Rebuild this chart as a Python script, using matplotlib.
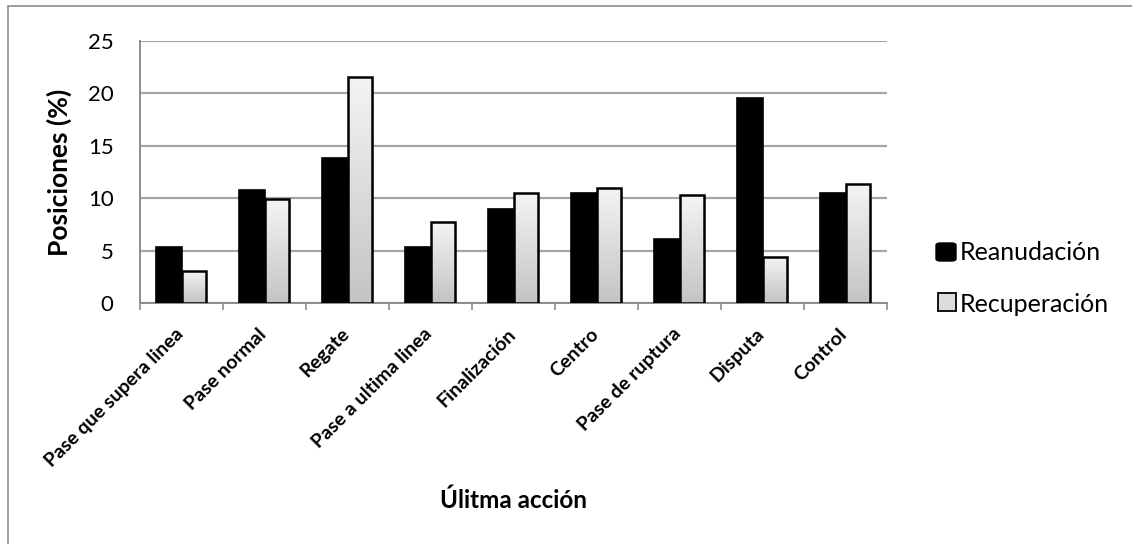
import numpy as np
import matplotlib
matplotlib.use("Agg")
import matplotlib.pyplot as plt
from matplotlib.patches import Rectangle, FancyBboxPatch
from matplotlib.colors import LinearSegmentedColormap
from matplotlib.transforms import ScaledTranslation

plt.rcParams['font.family'] = ['Lato', 'DejaVu Sans']

categories = ["Pase que supera linea", "Pase normal", "Regate", "Pase a ultima linea",
              "Finalización", "Centro", "Pase de ruptura", "Disputa", "Control"]
reanudacion = [5.3, 10.8, 13.8, 5.3, 9.0, 10.5, 6.1, 19.6, 10.5]
recuperacion = [3.1, 9.9, 21.6, 7.7, 10.5, 11.0, 10.3, 4.4, 11.4]
series_names = ["Reanudación", "Recuperación"]
yticks = [0, 5, 10, 15, 20, 25]

W, H = 1132, 544
fig = plt.figure(figsize=(W / 100, H / 100), dpi=100)
fig.patch.set_facecolor("white")

# outer chart frame (left and top edges visible)
fig.add_artist(Rectangle((8 / W, -0.05), 1.2, 1 - 6 / H + 0.05, transform=fig.transFigure,
                         fill=False, edgecolor="#8c8c8c", linewidth=1.2))

ax = fig.add_axes([140 / W, 1 - 303 / H, (887 - 140) / W, (303 - 41) / H])

grad_cmap = LinearSegmentedColormap.from_list("bargrey", ["#c4c4c4", "#f4f4f4"])
grad = np.linspace(0, 1, 256).reshape(-1, 1)

x = np.arange(len(categories))
w_dark, w_light = 0.32, 0.28
for xi, v1, v2 in zip(x, reanudacion, recuperacion):
    ax.bar(xi - 0.31, v1, width=w_dark, align="edge", color="black",
           edgecolor="black", linewidth=1.2, zorder=3)
    bl = ax.bar(xi + 0.01, v2, width=w_light, align="edge", color="none",
                edgecolor="black", linewidth=1.8, zorder=4)
    im = ax.imshow(grad, cmap=grad_cmap, origin="lower", aspect="auto",
                   extent=(xi + 0.01, xi + 0.01 + w_light, 0, v2), zorder=3.5,
                   interpolation="bilinear")
    im.set_clip_path(bl[0])
    # soft drop shadow on the right side of each pair
    ax.add_patch(Rectangle((xi + 0.01 + w_light, 0), 0.025, v2 - 0.3,
                           facecolor="#000000", alpha=0.12, edgecolor="none", zorder=2))

ax.set_xlim(-0.5, len(categories) - 0.5)
ax.set_ylim(0, 25)

ax.set_yticks(yticks)
ax.set_yticklabels([str(t) for t in yticks], fontsize=16)
ax.tick_params(axis="y", length=0, pad=19)
ax.yaxis.grid(True, color="#a6a6a6", linewidth=1.6, zorder=0)
ax.set_axisbelow(True)

ax.set_xticks(x)
ax.set_xticklabels(categories, rotation=45, ha="right", va="top",
                   fontsize=14, fontweight="bold")
ax.tick_params(axis="x", length=0, pad=16)
shift = ScaledTranslation(5 / 100, 0, fig.dpi_scale_trans)
for lbl in ax.get_xticklabels():
    lbl.set_transform(lbl.get_transform() + shift)
ax.set_xticks(np.arange(len(categories) + 1) - 0.5, minor=True)
ax.tick_params(axis="x", which="minor", length=5, width=1.2, color="#8c8c8c")

for s in ["top", "right"]:
    ax.spines[s].set_visible(False)
for s in ["left", "bottom"]:
    ax.spines[s].set_color("#8c8c8c")
    ax.spines[s].set_linewidth(1.4)

ax.set_ylabel("Posiciones (%)", fontsize=19, fontweight="bold")
ax.yaxis.set_label_coords(-(140 - 72) / (887 - 140), 0.5)
fig.text(513 / W, 1 - 500 / H, "Úlitma acción", fontsize=17.5, fontweight="bold",
         ha="center", va="center")

# legend
fig.add_artist(FancyBboxPatch((936 / W, 1 - 261 / H), 20 / W, 18 / H,
                              boxstyle="round,pad=0,rounding_size=0.004",
                              transform=fig.transFigure, facecolor="black",
                              edgecolor="black", linewidth=1))
fig.text(960 / W, 1 - 253 / H, series_names[0], fontsize=18, ha="left", va="center")
fig.add_artist(Rectangle((938 / W, 1 - 311 / H), 18 / W, 18 / H, transform=fig.transFigure,
                         facecolor="#dcdcdc", edgecolor="black", linewidth=1.3))
fig.text(960 / W, 1 - 304 / H, series_names[1], fontsize=18, ha="left", va="center")

fig.savefig("out.png", dpi=100, facecolor="white")
